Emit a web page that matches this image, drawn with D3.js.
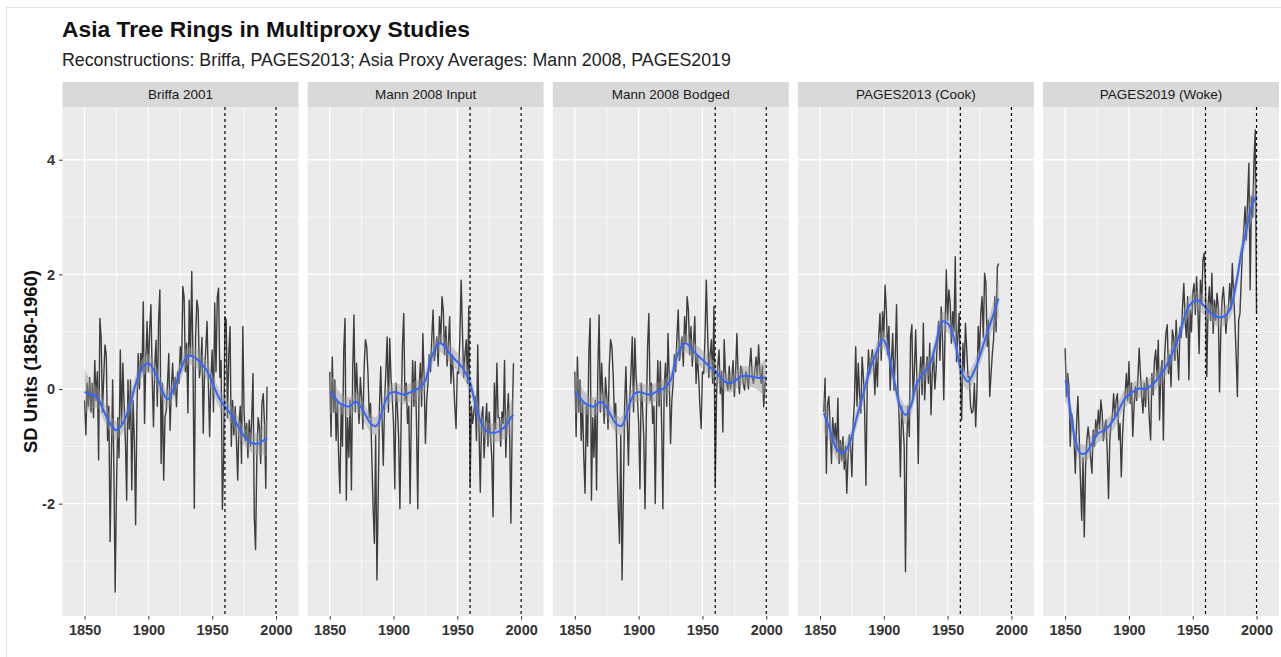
<!DOCTYPE html>
<html><head><meta charset="utf-8">
<script src="https://cdn.jsdelivr.net/npm/d3@7"></script>
<style>
body{margin:0;background:#fff}
text{font-family:"Liberation Sans",Arial,Helvetica,sans-serif}
</style>
</head><body><svg id="c" width="1281" height="657"></svg>
<script>
// ---------------- DATA ----------------
const panels = ["Briffa 2001","Mann 2008 Input","Mann 2008 Bodged","PAGES2013 (Cook)","PAGES2019 (Woke)"];
const xTicks = [1850,1900,1950,2000];
const yTicks = [-2,0,2,4];
const refLines = [1960,2000];

const briffaStart = 1850;
const briffa = [-0.2,-0.8,0.1,-0.3,0.2,-0.4,0.1,-0.5,0.5,-0.2,
0.3,-1.24,1.23,0.9,-0.4,0.2,0.77,0.6,-0.9,-0.3,
-2.66,-1.2,0.16,-1.5,-3.54,-1.76,-0.5,-1.2,0.68,-0.6,
0.45,-0.3,-0.9,-1.94,0.16,-0.7,0.16,-1.76,-0.2,-0.9,
-2.37,-0.4,0.62,0.0,0.62,0.3,1.52,-0.6,0.5,1.18,
0.3,1.03,1.47,0.2,-0.66,0.4,0.85,-0.3,1.2,1.73,
-1.3,0.1,-1.59,-0.5,-0.37,0.1,0.62,-0.72,0.0,0.45,
-0.1,0.2,-0.31,0.3,0.1,0.74,0.4,1.79,1.6,0.3,
0.8,-0.42,1.55,0.6,2.05,0.4,-2.08,0.9,1.55,1.4,
0.2,0.39,0.9,-0.77,0.3,0.7,1.18,0.1,-0.83,0.2,
0.68,-0.4,1.5,0.3,1.6,1.76,0.2,0.5,-2.1,-1.2,
1.26,1.2,-0.5,0.6,1.09,-1.0,-0.2,-0.8,-0.31,-0.9,
-1.59,-0.6,-0.3,-1.3,1.09,-0.4,-0.9,-0.6,-1.2,-0.54,
-1.0,-0.5,0.27,-2.23,-2.8,-1.2,-0.5,-0.66,-1.3,-0.25,
-0.08,-0.6,-1.73,0.04];

const mannStart = 1850;
const mannInput = [0.3,-0.83,0.56,-0.4,0.16,-0.9,-0.2,-1.19,-1.82,-0.3,
-1.0,0.68,1.23,-1.94,-0.5,-1.19,-0.2,-1.76,0.3,1.29,
-0.4,0.45,-0.1,-0.6,0.2,-0.13,-0.7,0.4,0.86,0.74,
0.27,-0.5,-0.25,-1.2,-2.06,-2.69,-0.8,-3.33,-1.88,-0.3,
0.39,-0.5,-1.33,-0.2,0.3,0.91,-0.4,0.88,0.2,-0.13,
-0.6,-1.74,0.1,-0.31,-0.83,-2.09,-0.5,0.74,1.32,-0.2,
0.1,-0.6,-0.3,-2.0,-0.4,0.5,-0.3,0.48,-0.6,-2.09,
0.0,0.45,-0.3,0.97,0.2,-0.95,-0.2,0.1,0.6,0.3,
0.9,1.38,0.5,0.7,0.91,0.4,1.26,0.8,1.61,1.38,
0.6,1.09,0.4,0.8,1.26,0.1,0.6,0.22,-0.3,-0.69,
0.3,0.27,0.9,1.9,1.03,0.2,0.6,0.86,0.1,1.44,
-1.69,-0.3,-0.6,-0.4,-0.13,-0.9,0.77,-0.7,-1.8,-0.5,
-0.31,-1.2,-0.6,-0.25,-1.0,-0.4,-0.83,-1.2,-2.23,0.1,
-0.7,0.45,-0.5,-0.5,-1.0,-0.4,-0.6,0.5,-1.19,-0.5,
-0.08,-0.8,-2.34,-0.6,0.45];

const bodgedKeepUntil = 1960;
const bodgedTail = [-0.13,0.4,0.68,-0.08,0.3,-0.75,0.86,0.3,0.1,-0.02,
0.4,0.0,0.16,0.5,-0.13,0.3,0.97,0.2,-0.08,0.4,
0.33,0.1,-0.02,0.3,0.21,0.0,0.4,0.71,0.2,0.1,
0.3,0.56,0.2,0.77,0.3,0.1,0.4,-0.31,0.1,0.2];

const pages2013Start = 1853;
const pages2013 = [-0.4,0.19,-1.47,-0.25,-0.13,-0.72,-1.30,
-0.5,-0.89,-0.6,-1.1,-0.16,-1.30,-0.9,-1.24,-0.83,-1.4,
-1.0,-1.82,-1.18,-0.8,-1.01,-1.53,-0.6,-0.2,0.74,-0.3,
0.45,-0.1,-0.42,0.56,0.22,-0.4,-1.68,0.04,0.68,0.27,
0.5,0.68,0.45,-0.1,0.6,0.04,0.9,1.32,0.5,1.35,
0.9,1.81,1.38,0.6,1.09,-0.02,0.5,0.97,-0.02,0.6,
1.47,0.04,-0.5,-1.53,-0.3,-0.6,-1.01,-3.19,-0.9,-0.3,
-0.83,0.91,1.12,-0.2,0.33,1.03,0.1,-1.3,0.2,0.56,
-0.1,1.15,-0.19,0.3,0.56,0.1,0.8,-0.45,0.3,0.62,
0.0,0.33,0.9,1.18,0.5,1.43,0.9,-0.19,1.0,2.08,
1.2,1.73,1.5,0.8,1.35,1.0,2.31,0.48,0.9,1.32,
0.3,-0.54,0.8,0.3,1.15,0.68,0.2,0.22,-0.3,-0.42,
-0.37,0.1,-0.66,-0.02,1.09,0.6,1.32,1.61,0.9,2.02,
1.85,0.74,1.2,-0.13,0.24,0.6,0.85,1.61,1.0,2.13,
2.19];

const pages2019Start = 1850;
const pages2019 = [0.71,-0.13,0.27,0.04,-1.0,-0.42,-0.54,-0.89,-1.47,-0.6,
-0.13,-0.83,-1.6,-2.29,-1.2,-2.58,-1.36,-0.9,-0.66,-0.89,
-1.2,-1.47,-0.72,-1.0,-0.54,-0.8,-0.37,-0.7,-0.19,-0.42,
-0.9,-0.66,-0.54,-1.1,-1.91,-0.89,-0.6,-0.48,-0.08,-0.5,
-0.19,-0.08,-0.89,-0.6,-1.53,-0.8,-0.37,-0.1,0.27,-0.2,
0.48,-0.25,0.1,-0.83,-0.3,0.04,-0.2,0.16,0.71,0.27,
-0.1,-0.42,0.1,-0.31,0.2,0.04,-0.54,-0.89,0.27,-0.1,
0.5,0.68,0.2,0.85,-0.54,0.3,0.5,-0.89,0.6,0.97,
1.12,0.27,0.6,0.04,1.03,0.91,0.5,1.2,0.62,0.16,
1.08,0.9,1.43,1.84,1.2,0.9,1.61,0.16,1.38,1.0,
1.67,1.84,1.3,1.96,1.43,0.62,1.9,1.5,2.25,2.37,
1.78,0.22,1.43,1.78,1.2,2.02,0.97,1.55,1.2,1.67,
1.43,-0.05,1.0,1.55,1.78,1.43,0.97,1.3,1.43,1.84,
1.4,2.19,1.67,1.2,0.6,-0.13,1.2,1.32,1.9,2.43,
2.77,3.18,2.6,3.3,3.94,1.73,3.36,3.0,4.0,4.52,
1.32];

// smooth fits: [year, fit, half-width of band]
const briffaFit = [[1850,-0.05,0.4],[1855,-0.1,0.24],[1860,-0.15,0.18],[1865,-0.38,0.16],[1870,-0.6,0.16],[1875,-0.72,0.16],[1880,-0.6,0.16],[1885,-0.32,0.16],[1890,0.08,0.16],[1895,0.36,0.16],[1900,0.45,0.16],[1905,0.3,0.16],[1910,0.02,0.16],[1915,-0.18,0.16],[1920,0.02,0.16],[1925,0.3,0.16],[1930,0.56,0.16],[1935,0.57,0.16],[1940,0.48,0.16],[1945,0.35,0.16],[1950,0.12,0.16],[1955,-0.14,0.16],[1960,-0.31,0.16],[1965,-0.45,0.16],[1970,-0.64,0.16],[1975,-0.82,0.16],[1980,-0.93,0.17],[1985,-0.96,0.19],[1990,-0.9,0.25],[1993,-0.86,0.33]];
const mannInputFit = [[1850,-0.05,0.4],[1853,-0.12,0.28],[1858,-0.25,0.19],[1863,-0.3,0.16],[1866,-0.3,0.16],[1870,-0.22,0.16],[1874,-0.3,0.16],[1878,-0.45,0.16],[1882,-0.6,0.16],[1886,-0.65,0.16],[1889,-0.55,0.16],[1893,-0.25,0.16],[1897,-0.08,0.16],[1901,-0.05,0.16],[1905,-0.08,0.16],[1909,-0.1,0.16],[1913,-0.06,0.16],[1917,-0.02,0.16],[1921,0.03,0.16],[1925,0.15,0.16],[1929,0.5,0.16],[1933,0.72,0.16],[1936,0.8,0.16],[1939,0.77,0.16],[1943,0.65,0.16],[1948,0.52,0.16],[1952,0.43,0.16],[1956,0.3,0.16],[1960,0.1,0.16],[1964,-0.25,0.16],[1968,-0.55,0.16],[1972,-0.72,0.16],[1976,-0.76,0.16],[1980,-0.76,0.17],[1984,-0.72,0.18],[1988,-0.64,0.21],[1992,-0.5,0.28],[1994,-0.45,0.33]];
const mannBodgedFit = [[1850,-0.05,0.4],[1853,-0.12,0.28],[1858,-0.25,0.19],[1863,-0.3,0.16],[1866,-0.3,0.16],[1870,-0.22,0.16],[1874,-0.3,0.16],[1878,-0.45,0.16],[1882,-0.6,0.16],[1886,-0.65,0.16],[1889,-0.55,0.16],[1893,-0.25,0.16],[1897,-0.08,0.16],[1901,-0.05,0.16],[1905,-0.08,0.16],[1909,-0.1,0.16],[1913,-0.06,0.16],[1917,-0.02,0.16],[1921,0.03,0.16],[1925,0.15,0.16],[1929,0.5,0.16],[1933,0.72,0.16],[1936,0.8,0.16],[1939,0.77,0.16],[1943,0.66,0.16],[1948,0.55,0.16],[1952,0.47,0.16],[1956,0.38,0.16],[1960,0.32,0.16],[1964,0.2,0.16],[1968,0.12,0.16],[1972,0.1,0.16],[1976,0.15,0.16],[1980,0.22,0.16],[1985,0.23,0.17],[1990,0.21,0.19],[1995,0.19,0.24],[2000,0.2,0.34]];
const pages2013Fit = [[1853,-0.42,0.34],[1858,-0.72,0.21],[1863,-1.05,0.17],[1868,-1.12,0.16],[1873,-0.95,0.16],[1879,-0.48,0.16],[1884,-0.08,0.16],[1889,0.33,0.16],[1894,0.62,0.16],[1899,0.87,0.16],[1902,0.76,0.16],[1908,0.16,0.16],[1913,-0.31,0.16],[1917,-0.45,0.16],[1921,-0.31,0.16],[1926,0.1,0.16],[1931,0.27,0.16],[1936,0.42,0.16],[1941,0.8,0.16],[1946,1.18,0.16],[1951,1.12,0.16],[1956,0.8,0.16],[1961,0.3,0.16],[1966,0.13,0.16],[1970,0.27,0.16],[1975,0.56,0.16],[1980,0.91,0.17],[1985,1.24,0.21],[1990,1.58,0.33]];
const pages2019Fit = [[1850,0.15,0.4],[1851,0.1,0.34],[1854,-0.37,0.23],[1858,-0.89,0.17],[1862,-1.12,0.16],[1866,-1.12,0.16],[1871,-0.95,0.16],[1876,-0.77,0.16],[1881,-0.72,0.16],[1887,-0.57,0.16],[1892,-0.37,0.16],[1897,-0.16,0.16],[1903,-0.05,0.16],[1908,0.01,0.16],[1913,0.0,0.16],[1918,0.07,0.16],[1924,0.22,0.16],[1929,0.39,0.16],[1934,0.62,0.16],[1940,0.97,0.16],[1945,1.35,0.16],[1950,1.52,0.16],[1954,1.55,0.16],[1958,1.47,0.16],[1963,1.35,0.16],[1969,1.26,0.16],[1974,1.26,0.16],[1979,1.38,0.16],[1984,1.84,0.17],[1988,2.37,0.18],[1992,2.77,0.21],[1996,3.18,0.25],[2000,3.38,0.34]];

// ---------------- BUILD ----------------
const toPts = (start, vals) => vals.map((v,i)=>({year:start+i, value:v}));
const bodged = mannInput.slice(0, bodgedKeepUntil - mannStart + 1).concat(bodgedTail);
const seriesData = [
  {pts: toPts(briffaStart, briffa), fit: briffaFit},
  {pts: toPts(mannStart, mannInput), fit: mannInputFit},
  {pts: toPts(mannStart, bodged), fit: mannBodgedFit},
  {pts: toPts(pages2013Start, pages2013), fit: pages2013Fit},
  {pts: toPts(pages2019Start, pages2019), fit: pages2019Fit}
];

const svg = d3.select("#c");
svg.append("rect").attr("x",0).attr("y",0).attr("width",1281).attr("height",657).attr("fill","#fff");
svg.append("rect").attr("x",6.5).attr("y",7.5).attr("width",1280).attr("height",660)
   .attr("fill","none").attr("stroke","#e2e2e2");

const plotLeft = 62.5, plotRight = 1279, gap = 9.2;
const pTop = 107, pBottom = 616, stripTop = 82;
const pw = (plotRight - plotLeft - gap*4)/5;

const y = d3.scaleLinear().domain([-3.96, 4.92]).range([pBottom, pTop]);
const xBase = d3.scaleLinear().domain([1832.7, 2017.6]).range([0, pw]);

// titles
svg.append("text").attr("x",62).attr("y",37).attr("font-size",22.8).attr("font-weight","bold")
   .attr("fill","#111").text("Asia Tree Rings in Multiproxy Studies");
svg.append("text").attr("x",62).attr("y",66).attr("font-size",17.8).attr("fill","#222")
   .text("Reconstructions: Briffa, PAGES2013; Asia Proxy Averages: Mann 2008, PAGES2019");
svg.append("text").attr("transform",`translate(37,${(pTop+pBottom)/2}) rotate(-90)`)
   .attr("text-anchor","middle").attr("font-size",18.5).attr("font-weight","bold").attr("fill","#111")
   .text("SD Units (1850-1960)");

const minorY = [-3,-1,1,3];
const minorX = [1875,1925,1975];

panels.forEach((name, i) => {
  const left = plotLeft + i*(pw+gap);
  const g = svg.append("g").attr("transform",`translate(${left},0)`);
  const x = xBase;
  g.append("rect").attr("x",0).attr("y",pTop).attr("width",pw).attr("height",pBottom-pTop).attr("fill","#EBEBEB");
  // minor grid
  g.selectAll(".my").data(minorY).join("line").attr("x1",0).attr("x2",pw)
    .attr("y1",d=>y(d)).attr("y2",d=>y(d)).attr("stroke","#fff").attr("stroke-width",0.7);
  g.selectAll(".mx").data(minorX).join("line").attr("y1",pTop).attr("y2",pBottom)
    .attr("x1",d=>x(d)).attr("x2",d=>x(d)).attr("stroke","#fff").attr("stroke-width",0.7);
  // major grid
  g.selectAll(".gy").data(yTicks).join("line").attr("x1",0).attr("x2",pw)
    .attr("y1",d=>y(d)).attr("y2",d=>y(d)).attr("stroke","#fff").attr("stroke-width",1.3);
  g.selectAll(".gx").data(xTicks).join("line").attr("y1",pTop).attr("y2",pBottom)
    .attr("x1",d=>x(d)).attr("x2",d=>x(d)).attr("stroke","#fff").attr("stroke-width",1.3);

  const s = seriesData[i];
  // raw series
  g.append("path").datum(s.pts)
    .attr("d", d3.line().x(d=>x(d.year)).y(d=>y(d.value)))
    .attr("fill","none").attr("stroke","#111").attr("stroke-width",1.4).attr("stroke-opacity",0.8)
    .attr("stroke-linejoin","round");
  // ribbon
  g.append("path").datum(s.fit)
    .attr("d", d3.area().curve(d3.curveCatmullRom.alpha(0.5)).x(d=>x(d[0])).y0(d=>y(d[1]-d[2])).y1(d=>y(d[1]+d[2])))
    .attr("fill","#999").attr("fill-opacity",0.45);
  // smooth
  g.append("path").datum(s.fit)
    .attr("d", d3.line().curve(d3.curveCatmullRom.alpha(0.5)).x(d=>x(d[0])).y(d=>y(d[1])))
    .attr("fill","none").attr("stroke","#3366FF").attr("stroke-width",2);
  // reference lines
  g.selectAll(".ref").data(refLines).join("line").attr("y1",pTop).attr("y2",pBottom)
    .attr("x1",d=>x(d)).attr("x2",d=>x(d)).attr("stroke","#000").attr("stroke-width",1.2)
    .attr("stroke-dasharray","3,3");
  // strip
  g.append("rect").attr("x",0).attr("y",stripTop).attr("width",pw).attr("height",pTop-stripTop).attr("fill","#D9D9D9");
  g.append("text").attr("x",pw/2).attr("y",(stripTop+pTop)/2+4.7).attr("text-anchor","middle")
    .attr("font-size",13.5).attr("fill","#1a1a1a").text(name);
  // x axis
  const xa = g.append("g").attr("transform",`translate(0,${pBottom})`)
    .call(d3.axisBottom(x).tickValues(xTicks).tickFormat(d=>String(d)).tickSize(3.5).tickPadding(5));
  xa.select(".domain").remove();
  xa.selectAll("line").attr("stroke","#333");
  xa.selectAll("text").attr("font-size",14.5).attr("font-weight","bold").attr("fill","#333")
    .attr("font-family","Liberation Sans, Arial, sans-serif");
  if (i === 0) {
    const ya = g.append("g").call(d3.axisLeft(y).tickValues(yTicks).tickFormat(d=>String(d)).tickSize(3.5).tickPadding(4));
    ya.select(".domain").remove();
    ya.selectAll("line").attr("stroke","#333");
    ya.selectAll("text").attr("font-size",14.5).attr("font-weight","bold").attr("fill","#333")
      .attr("font-family","Liberation Sans, Arial, sans-serif");
  }
});
</script>
</body></html>
